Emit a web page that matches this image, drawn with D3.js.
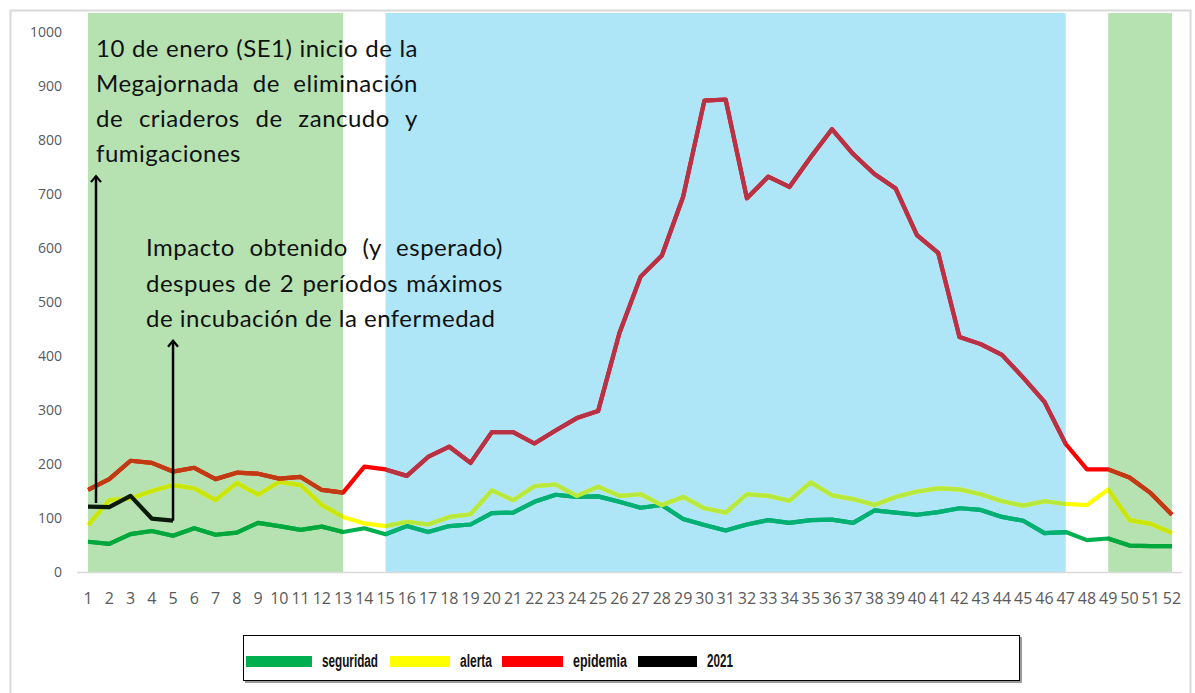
<!DOCTYPE html>
<html>
<head>
<meta charset="utf-8">
<script src="https://cdn.jsdelivr.net/npm/d3@7"></script>
<style>
	body { margin: 0; background: #fff; }
	svg { display: block; }
</style>
</head>
<body>
<svg id="chart" width="1195" height="693"></svg>
<script>
// semanas epidemiologicas
const semanas = [1,2,3,4,5,6,7,8,9,10,11,12,13,14,15,16,17,18,19,20,21,22,23,24,25,26,
	27,28,29,30,31,32,33,34,35,36,37,38,39,40,41,42,43,44,45,46,47,48,49,50,51,52];

const seguridad = [56,52,70,76,67,81,69,73,91,85,78,84,74,81,70,85,74,85,88,109,110,130,143,139,140,130,
	119,124,98,87,77,88,96,91,96,97,91,114,110,106,111,118,115,102,95,72,74,59,62,49,48,48];
const alerta = [87,133,136,150,161,155,133,165,143,167,161,124,102,90,85,93,88,102,107,151,133,159,162,141,158,141,
	144,124,139,118,110,144,141,132,166,142,135,124,139,149,155,153,144,131,123,131,126,124,153,96,89,72];
const epidemia = [152,172,206,202,186,193,172,184,182,173,176,152,147,195,190,178,213,232,202,259,259,238,262,285,298,442,
	547,586,695,873,875,692,732,713,768,820,774,737,710,624,591,435,422,402,360,315,237,190,190,175,146,106];
const anio2021 = [121,120,141,99,95];

const yTicks = [0,100,200,300,400,500,600,700,800,900,1000];

// periodos sombreados (semana inicio, semana fin)
const periodosVerde = [[1,13],[49,52]];
const periodosAzul = [[15,47]];

const nota1 = ["10 de enero (SE1) inicio de la", "Megajornada de eliminación", "de criaderos de zancudo y", "fumigaciones"];
const nota2 = ["Impacto obtenido (y esperado)", "despues de 2 períodos máximos", "de incubación de la enfermedad"];

const series = [
	{ name: "seguridad", values: seguridad, color: "#00b050", verde: "#00a83c", azul: "#00b074" },
	{ name: "alerta", values: alerta, color: "#ffff00", verde: "#c9e60c", azul: "#b6e83e" },
	{ name: "epidemia", values: epidemia, color: "#ff0000", verde: "#c03a12", azul: "#b83246" }
];

var svg = d3.select("#chart");
var plotTop = 13;

var x = d3.scaleLinear().domain([1, 52]).range([88, 1172]);
var y = d3.scaleLinear().domain([0, 1000]).range([572, 32]);

// marco
svg.append("rect")
	.attr("x", 10.5).attr("y", 10.5)
	.attr("width", 1180).attr("height", 700)
	.attr("fill", "none")
	.attr("stroke", "#d9d9d9")
	.attr("stroke-width", 2);

var defs = svg.append("defs");

function clip(id, periods) {
	defs.append("clipPath").attr("id", id)
		.selectAll("rect")
		.data(periods)
		.enter().append("rect")
		.attr("x", d => x(d[0]))
		.attr("y", 0)
		.attr("width", d => x(d[1]) - x(d[0]))
		.attr("height", y(0) + 10);
}
clip("clip-verde", periodosVerde);
clip("clip-azul", periodosAzul);

defs.append("marker")
	.attr("id", "flecha")
	.attr("viewBox", "-9 -8 11 16")
	.attr("refX", 0).attr("refY", 0)
	.attr("markerWidth", 11).attr("markerHeight", 16)
	.attr("markerUnits", "userSpaceOnUse")
	.attr("orient", "auto")
	.append("path")
	.attr("d", "M-6,-5L0,0L-6,5")
	.attr("fill", "none")
	.attr("stroke", "#000")
	.attr("stroke-width", 2.2);

// fondos
svg.append("g").selectAll("rect")
	.data(periodosVerde)
	.enter().append("rect")
	.attr("x", d => x(d[0]))
	.attr("y", plotTop)
	.attr("width", d => x(d[1]) - x(d[0]))
	.attr("height", y(0) - plotTop)
	.attr("fill", "#b6e2b2");

svg.append("g").selectAll("rect")
	.data(periodosAzul)
	.enter().append("rect")
	.attr("x", d => x(d[0]))
	.attr("y", plotTop)
	.attr("width", d => x(d[1]) - x(d[0]))
	.attr("height", y(0) - plotTop)
	.attr("fill", "#aee6f8");

// eje x
svg.append("line")
	.attr("x1", 77).attr("x2", 1182)
	.attr("y1", y(0) + 0.5).attr("y2", y(0) + 0.5)
	.attr("stroke", "#d9d9d9")
	.attr("stroke-width", 1.5);

svg.append("g").selectAll("text")
	.data(yTicks)
	.enter().append("text")
	.attr("x", 62)
	.attr("y", d => y(d) + 5)
	.attr("text-anchor", "end")
	.attr("font-family", "'Open Sans', sans-serif")
	.attr("font-size", 14)
	.attr("fill", "#595959")
	.text(d => d);

svg.append("g").selectAll("text")
	.data(semanas)
	.enter().append("text")
	.attr("x", d => x(d))
	.attr("y", 604)
	.attr("text-anchor", "middle")
	.attr("font-family", "'Open Sans', sans-serif")
	.attr("font-size", 16)
	.attr("fill", "#595959")
	.text(d => d);

// lineas
var line = d3.line()
	.x((d, i) => x(semanas[i]))
	.y(d => y(d));

var lines = svg.append("g").attr("fill", "none").attr("stroke-width", 4.2).attr("stroke-linejoin", "round");

series.forEach(function(s) {
	lines.append("path").attr("d", line(s.values)).attr("stroke", s.color);
	lines.append("path").attr("d", line(s.values)).attr("stroke", s.verde).attr("clip-path", "url(#clip-verde)");
	lines.append("path").attr("d", line(s.values)).attr("stroke", s.azul).attr("clip-path", "url(#clip-azul)");
});

lines.append("path")
	.attr("d", line(anio2021))
	.attr("stroke", "#0c1a0c");

// flechas
var flechas = [
	{ x: x(1) + 8, y1: y(128), y2: y(735) },
	{ x: x(5), y1: y(anio2021[4]), y2: y(430) }
];
svg.append("g").selectAll("line")
	.data(flechas)
	.enter().append("line")
	.attr("x1", d => d.x).attr("x2", d => d.x)
	.attr("y1", d => d.y1).attr("y2", d => d.y2 + 1)
	.attr("stroke", "#000")
	.attr("stroke-width", 2.5)
	.attr("marker-end", "url(#flecha)");

// notas (texto justificado)
function nota(lines, left, right, top, lh) {
	var g = svg.append("g")
		.attr("font-family", "Lato, sans-serif")
		.attr("font-size", 24)
		.attr("letter-spacing", 0.5)
		.attr("fill", "#111");
	lines.forEach(function(t, i) {
		var el = g.append("text")
			.attr("x", left)
			.attr("y", top + i * lh)
			.text(t);
		if (i < lines.length - 1) {
			var w = el.node().getComputedTextLength();
			var gaps = t.split(" ").length - 1;
			if (gaps > 0) el.attr("word-spacing", (right - left - w) / gaps);
		}
	});
}
nota(nota1, 96, 418, 57, 35);
nota(nota2, 146, 503, 256, 35.5);

// leyenda
var legend = svg.append("g");
legend.append("rect")
	.attr("x", 245).attr("y", 637)
	.attr("width", 777).attr("height", 46)
	.attr("fill", "#9a9a9a");
legend.append("rect")
	.attr("x", 243.5).attr("y", 635.5)
	.attr("width", 776).attr("height", 45)
	.attr("fill", "#fff")
	.attr("stroke", "#000")
	.attr("stroke-width", 1);

var legendItems = [
	{ name: "seguridad", color: "#00b050", x: 246, w: 66, tw: 56 },
	{ name: "alerta", color: "#ffff00", x: 390, w: 60, tw: 32 },
	{ name: "epidemia", color: "#ff0000", x: 502, w: 61, tw: 54 },
	{ name: "2021", color: "#000000", x: 638, w: 59, tw: 26 }
];
var li = legend.selectAll("g.item")
	.data(legendItems)
	.enter().append("g").attr("class", "item");
li.append("rect")
	.attr("x", d => d.x).attr("y", 656)
	.attr("width", d => d.w).attr("height", 11)
	.attr("fill", d => d.color);
li.append("text")
	.attr("x", d => d.x + d.w + 10)
	.attr("y", 667)
	.attr("font-family", "'Liberation Sans', Arial, sans-serif")
	.attr("font-weight", "bold")
	.attr("font-size", 18)
	.attr("textLength", d => d.tw)
	.attr("lengthAdjust", "spacingAndGlyphs")
	.attr("fill", "#111")
	.text(d => d.name);
</script>
</body>
</html>
